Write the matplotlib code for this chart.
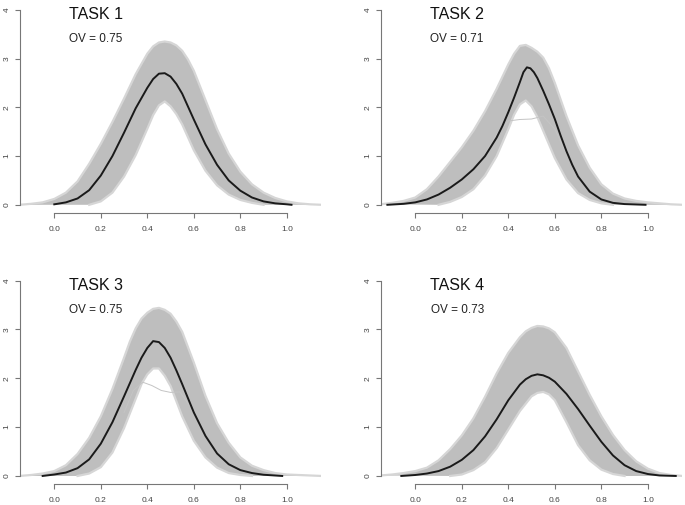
import numpy as np
import matplotlib
matplotlib.use("Agg")
from matplotlib import pyplot as plt

plt.rcParams["font.family"] = ["Liberation Sans", "DejaVu Sans"]

tasks = ["TASK 1", "TASK 2", "TASK 3", "TASK 4"]
ov_values = [0.75, 0.71, 0.75, 0.73]

# upper / lower edge of the grey bootstrap curves
up_x_1 = [-0.15, -0.10, -0.05, 0.00, 0.05, 0.10, 0.15, 0.20, 0.25, 0.30, 0.35, 0.40, 0.425, 0.45,
          0.475, 0.50, 0.525, 0.55, 0.575, 0.60, 0.65, 0.70, 0.75, 0.80, 0.85, 0.90, 0.95, 1.00,
          1.05, 1.10, 1.15]
up_y_1 = [0.0, 0.02, 0.05, 0.12, 0.25, 0.48, 0.84, 1.25, 1.70, 2.18, 2.68, 3.10, 3.25, 3.33,
          3.35, 3.33, 3.27, 3.16, 2.98, 2.75, 2.15, 1.55, 1.05, 0.68, 0.42, 0.25, 0.14, 0.07,
          0.03, 0.01, 0.0]
lo_x_1 = [0.15, 0.20, 0.25, 0.30, 0.35, 0.40, 0.425, 0.45, 0.475, 0.50, 0.525, 0.55, 0.60, 0.65,
          0.70, 0.75, 0.80, 0.85, 0.90]
lo_y_1 = [0.0, 0.07, 0.25, 0.58, 1.02, 1.56, 1.84, 2.04, 2.12, 2.02, 1.86, 1.65, 1.12, 0.70,
          0.40, 0.21, 0.10, 0.04, 0.0]

up_x_2 = [-0.15, -0.10, -0.05, 0.00, 0.05, 0.10, 0.15, 0.20, 0.25, 0.30, 0.35, 0.40, 0.425, 0.45,
          0.475, 0.50, 0.525, 0.55, 0.575, 0.60, 0.65, 0.70, 0.75, 0.80, 0.85, 0.90, 0.95, 1.00,
          1.05, 1.10, 1.15]
up_y_2 = [0.01, 0.04, 0.08, 0.15, 0.32, 0.58, 0.88, 1.18, 1.52, 1.92, 2.38, 2.88, 3.10, 3.26,
          3.28, 3.22, 3.14, 3.02, 2.80, 2.50, 1.82, 1.22, 0.76, 0.42, 0.23, 0.13, 0.08, 0.05,
          0.03, 0.01, 0.0]
lo_x_2 = [0.10, 0.15, 0.20, 0.25, 0.30, 0.35, 0.40, 0.425, 0.45, 0.475, 0.50, 0.525, 0.55, 0.60,
          0.65, 0.70, 0.75, 0.80, 0.85]
lo_y_2 = [0.0, 0.06, 0.16, 0.32, 0.60, 1.00, 1.55, 1.85, 2.06, 2.14, 2.02, 1.80, 1.52, 0.96,
          0.52, 0.24, 0.10, 0.03, 0.0]

up_x_3 = [-0.15, -0.10, -0.05, 0.00, 0.05, 0.10, 0.15, 0.20, 0.25, 0.30, 0.325, 0.35, 0.375, 0.40,
          0.425, 0.45, 0.475, 0.50, 0.525, 0.55, 0.60, 0.65, 0.70, 0.75, 0.80, 0.85, 0.90, 0.95,
          1.00, 1.05, 1.10, 1.15]
up_y_3 = [0.0, 0.02, 0.05, 0.10, 0.22, 0.45, 0.78, 1.22, 1.78, 2.42, 2.75, 3.02, 3.22, 3.34,
          3.42, 3.44, 3.40, 3.32, 3.16, 2.95, 2.32, 1.64, 1.08, 0.68, 0.38, 0.21, 0.12, 0.06,
          0.03, 0.02, 0.01, 0.0]
lo_x_3 = [0.10, 0.15, 0.20, 0.25, 0.30, 0.35, 0.375, 0.40, 0.425, 0.45, 0.475, 0.50, 0.55, 0.60,
          0.65, 0.70, 0.75, 0.80, 0.85]
lo_y_3 = [0.0, 0.05, 0.18, 0.48, 0.98, 1.58, 1.88, 2.08, 2.20, 2.20, 2.05, 1.84, 1.22, 0.72,
          0.38, 0.17, 0.06, 0.02, 0.0]

up_x_4 = [-0.15, -0.10, -0.05, 0.00, 0.05, 0.10, 0.15, 0.20, 0.25, 0.30, 0.35, 0.40, 0.45, 0.475,
          0.50, 0.525, 0.55, 0.575, 0.60, 0.65, 0.70, 0.75, 0.80, 0.85, 0.90, 0.95, 1.00, 1.05,
          1.10, 1.15]
up_y_4 = [0.01, 0.03, 0.06, 0.10, 0.17, 0.32, 0.55, 0.83, 1.18, 1.62, 2.10, 2.52, 2.84, 2.96,
          3.03, 3.07, 3.06, 3.02, 2.94, 2.62, 2.14, 1.66, 1.22, 0.84, 0.53, 0.30, 0.15, 0.06,
          0.02, 0.0]
lo_x_4 = [0.15, 0.20, 0.25, 0.30, 0.35, 0.40, 0.45, 0.50, 0.525, 0.55, 0.575, 0.60, 0.65, 0.70,
          0.75, 0.80, 0.85, 0.90]
lo_y_4 = [0.0, 0.03, 0.12, 0.28, 0.57, 0.95, 1.33, 1.63, 1.70, 1.72, 1.67, 1.55, 1.10, 0.63,
          0.32, 0.13, 0.04, 0.0]

# mean density curves (black)
mean_x_1 = [0.00, 0.05, 0.10, 0.15, 0.20, 0.25, 0.30, 0.35, 0.40, 0.425, 0.45, 0.475, 0.50,
            0.525, 0.55, 0.60, 0.65, 0.70, 0.75, 0.80, 0.85, 0.90, 0.95, 1.00, 1.02]
mean_y_1 = [0.01, 0.05, 0.13, 0.30, 0.60, 1.00, 1.48, 1.98, 2.40, 2.58, 2.69, 2.70, 2.63,
            2.48, 2.28, 1.75, 1.24, 0.82, 0.50, 0.29, 0.15, 0.07, 0.03, 0.01, 0.0]
mean_x_2 = [-0.12, -0.05, 0.00, 0.05, 0.10, 0.15, 0.20, 0.25, 0.30, 0.35, 0.375, 0.40, 0.425,
            0.45, 0.465, 0.48, 0.495, 0.51, 0.525, 0.55, 0.575, 0.60, 0.625, 0.65, 0.675, 0.70,
            0.75, 0.80, 0.85, 0.90, 0.99]
mean_y_2 = [0.0, 0.02, 0.05, 0.11, 0.21, 0.35, 0.52, 0.73, 1.00, 1.38, 1.62, 1.90, 2.20,
            2.52, 2.72, 2.82, 2.80, 2.72, 2.60, 2.34, 2.06, 1.76, 1.42, 1.10, 0.82, 0.58,
            0.27, 0.11, 0.04, 0.015, 0.0]
mean_x_3 = [-0.05, 0.00, 0.05, 0.10, 0.15, 0.20, 0.25, 0.30, 0.35, 0.375, 0.40, 0.425, 0.45,
            0.475, 0.50, 0.525, 0.55, 0.60, 0.65, 0.70, 0.75, 0.80, 0.85, 0.90, 0.98]
mean_y_3 = [0.0, 0.03, 0.07, 0.16, 0.34, 0.66, 1.10, 1.63, 2.17, 2.42, 2.62, 2.76, 2.74,
            2.62, 2.42, 2.16, 1.88, 1.30, 0.82, 0.46, 0.24, 0.12, 0.06, 0.025, 0.0]
mean_x_4 = [-0.06, 0.00, 0.05, 0.10, 0.15, 0.20, 0.25, 0.30, 0.35, 0.40, 0.45, 0.475, 0.50,
            0.525, 0.55, 0.575, 0.60, 0.65, 0.70, 0.75, 0.80, 0.85, 0.90, 0.95, 1.00, 1.05, 1.12]
mean_y_4 = [0.0, 0.02, 0.05, 0.10, 0.19, 0.33, 0.53, 0.81, 1.16, 1.55, 1.87, 1.98, 2.05,
            2.08, 2.06, 2.01, 1.93, 1.68, 1.37, 1.03, 0.70, 0.42, 0.22, 0.10, 0.04, 0.01, 0.0]

# a few stray bootstrap curves that leave the band
odd_x_2 = [0.30, 0.35, 0.40, 0.45, 0.50, 0.55, 0.60, 0.65, 0.70]
odd_y_2 = [1.05, 1.45, 1.72, 1.75, 1.76, 1.82, 1.55, 1.05, 0.60]
odd_x_3 = [0.30, 0.34, 0.38, 0.42, 0.46, 0.50, 0.54, 0.58]
odd_y_3 = [1.30, 1.75, 1.92, 1.85, 1.75, 1.71, 1.72, 1.45]

bands = [(up_x_1, up_y_1, lo_x_1, lo_y_1), (up_x_2, up_y_2, lo_x_2, lo_y_2),
         (up_x_3, up_y_3, lo_x_3, lo_y_3), (up_x_4, up_y_4, lo_x_4, lo_y_4)]
means = [(mean_x_1, mean_y_1), (mean_x_2, mean_y_2), (mean_x_3, mean_y_3), (mean_x_4, mean_y_4)]
odds = [[], [(odd_x_2, odd_y_2)], [(odd_x_3, odd_y_3)], []]

fig = plt.figure(figsize=(6.85, 5.05), dpi=100)
positions = [
    [0.029, 0.579, 0.440, 0.417],
    [0.556, 0.579, 0.440, 0.417],
    [0.029, 0.042, 0.440, 0.418],
    [0.556, 0.042, 0.440, 0.418],
]

axis_col = "#777777"
label_col = "#444444"
band_col = "#BEBEBE"

for i in range(4):
    ax = fig.add_axes(positions[i])
    ux, uy, lx, ly = bands[i]
    # soft edge first, then the dense core
    ax.plot(ux, uy, color="#D6D6D6", lw=1.6)
    ax.plot(lx, ly, color="#D6D6D6", lw=1.6)
    ax.fill(np.concatenate([ux, lx[::-1]]), np.concatenate([uy, ly[::-1]]),
            color=band_col, lw=0)
    for ox, oy in odds[i]:
        ax.plot(ox, oy, color="#C4C4C4", lw=0.7)
    mx, my = means[i]
    ax.plot(mx, my, color="#1a1a1a", lw=1.4)

    ax.text(0.18, 3.81, tasks[i], ha="center", va="baseline", fontsize=11.5, color="#111111")
    ax.text(0.18, 3.34, f"OV = {ov_values[i]:.2f}", ha="center", va="baseline",
            fontsize=8.5, color="#222222")

    ax.set_xlim(-0.148, 1.148)
    ax.set_ylim(-0.16, 4.16)
    ax.spines["top"].set_visible(False)
    ax.spines["right"].set_visible(False)
    for s in ["left", "bottom"]:
        ax.spines[s].set_color(axis_col)
        ax.spines[s].set_linewidth(0.8)
    ax.spines["bottom"].set_bounds(0, 1)
    ax.spines["left"].set_bounds(0, 4)
    ax.set_xticks([0.0, 0.2, 0.4, 0.6, 0.8, 1.0])
    ax.set_xticklabels(["0.0", "0.2", "0.4", "0.6", "0.8", "1.0"])
    ax.set_yticks([0, 1, 2, 3, 4])
    ax.tick_params(axis="both", length=3.6, width=0.8, color=axis_col,
                   labelsize=6, labelcolor=label_col)
    ax.tick_params(axis="x", pad=6)
    ax.tick_params(axis="y", pad=3, labelrotation=90)
    for lab in ax.get_yticklabels():
        lab.set_verticalalignment("center")
    ax.patch.set_alpha(0)

plt.savefig("out.png", dpi=100)
